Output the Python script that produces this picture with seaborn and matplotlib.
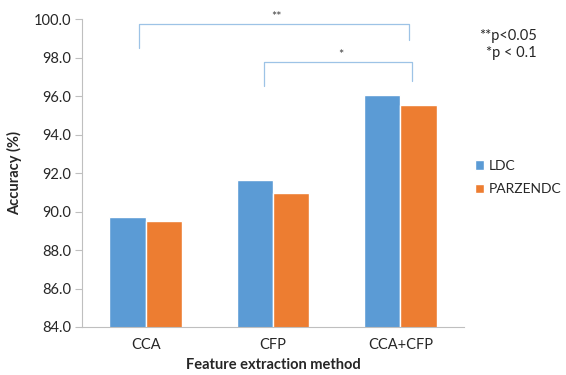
import matplotlib
matplotlib.use("Agg")
import matplotlib.pyplot as plt
import pandas as pd
import seaborn as sns

# ── Data ────────────────────────────
methods = ["CCA", "CFP", "CCA+CFP"]
classifiers = ["LDC", "PARZENDC"]
ldc_acc = [89.7, 91.65, 96.07]
parzen_acc = [89.52, 90.96, 95.55]

# significance brackets: (x_left, x_right, y_top, y_left_end, y_right_end, label)
bracket_xl = [-0.05, 0.93]
bracket_xr = [2.07, 2.09]
bracket_top = [99.77, 97.75]
bracket_yl = [98.5, 96.54]
bracket_yr = [98.92, 96.8]
bracket_labels = ["**", "*"]

PALETTE = ["#5B9BD5", "#ED7D31"]
AXIS_GREY = "#BFBFBF"
TEXT = "#262626"

sns.set_style("white")
plt.rcParams["font.family"] = ["Lato", "DejaVu Sans"]

df = pd.DataFrame({
    "method": methods * 2,
    "classifier": [classifiers[0]] * 3 + [classifiers[1]] * 3,
    "acc": ldc_acc + parzen_acc,
})

fig = plt.figure(figsize=(5.66, 3.75), dpi=100)
ax = fig.add_axes([0.145, 0.128, 0.675, 0.821])

sns.barplot(data=df, x="method", y="acc", hue="classifier", palette=PALETTE,
            width=0.57, saturation=1, ax=ax, errorbar=None)

ax.set_ylim(84, 100)
ax.set_xlim(-0.5, 2.5)
ax.set_yticks(range(84, 101, 2))
ax.set_yticklabels([f"{v:.1f}" for v in range(84, 101, 2)], fontsize=10.5, color=TEXT)
ax.set_xticks(range(len(methods)))
ax.set_xticklabels(methods, fontsize=10.5, color=TEXT)
ax.set_xticks([0.5, 1.5, 2.5], minor=True)
ax.tick_params(axis="x", which="major", length=0, pad=8)
ax.tick_params(axis="x", which="minor", length=5, color=AXIS_GREY, width=0.8)
ax.tick_params(axis="y", length=5, color=AXIS_GREY, width=0.8, pad=3, left=True)

for side in ["top", "right"]:
    ax.spines[side].set_visible(False)
for side in ["left", "bottom"]:
    ax.spines[side].set_color(AXIS_GREY)
    ax.spines[side].set_linewidth(0.8)

ax.set_xlabel("Feature extraction method", fontsize=10.5, fontweight="bold",
              color=TEXT, labelpad=4)
ax.set_ylabel("Accuracy (%)", fontsize=10.5, fontweight="bold", color=TEXT, labelpad=8)

# significance brackets
for xl, xr, yt, yl, yr, lab in zip(bracket_xl, bracket_xr, bracket_top,
                                   bracket_yl, bracket_yr, bracket_labels):
    ax.plot([xl, xl, xr, xr], [yl, yt, yt, yr], color="#9DC3E6", lw=0.9,
            clip_on=False)
    ax.text((xl + xr) / 2 + 0.02, yt + 0.05, lab, ha="center", va="bottom",
            fontsize=9, color="#404040")

fig.text(0.948, 0.905, "**p<0.05", ha="right", va="center", fontsize=10.5, color=TEXT)
fig.text(0.948, 0.858, "*p < 0.1", ha="right", va="center", fontsize=10.5, color=TEXT)

ax.legend(loc="center left", bbox_to_anchor=(1.02, 0.485), frameon=False,
          borderaxespad=0, borderpad=0.2,
          fontsize=10, handlelength=0.7, handleheight=0.7, handletextpad=0.35,
          labelspacing=0.8, labelcolor=TEXT)

fig.savefig("out.png", dpi=100)
